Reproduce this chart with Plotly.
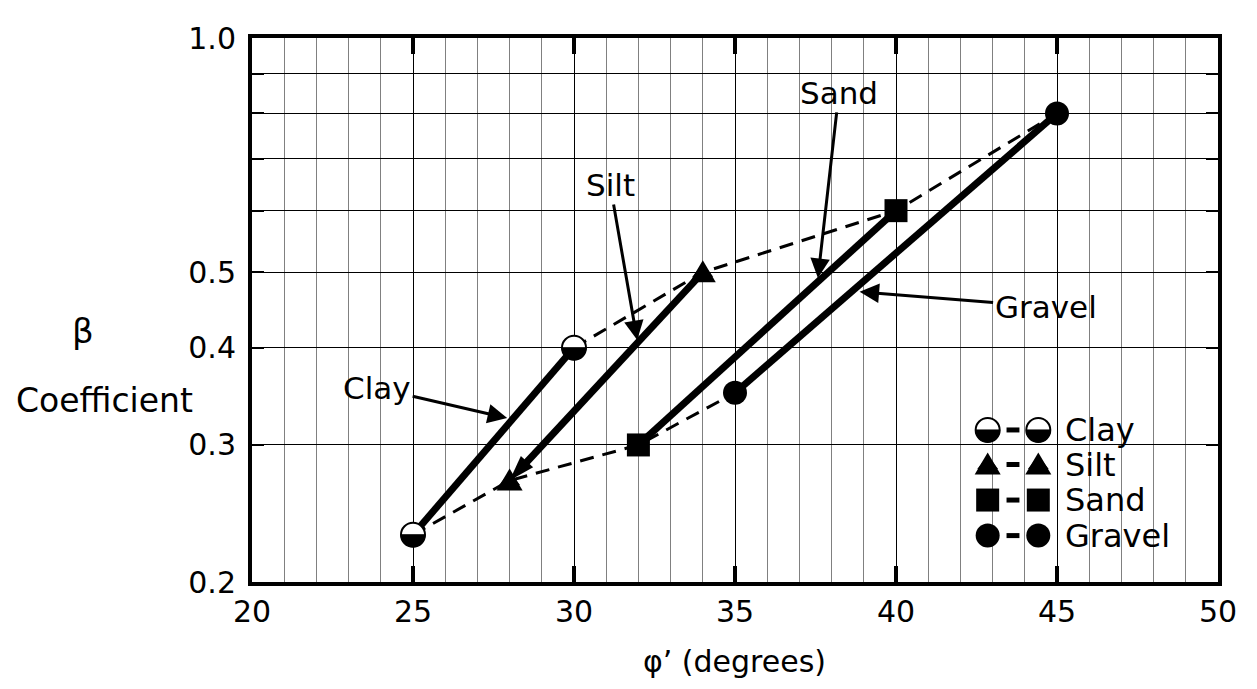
import math
import plotly.graph_objects as go

# ---------------- data ----------------
soils = ["Clay", "Silt", "Sand", "Gravel"]
phi_low = [25, 28, 32, 35]          # degrees
beta_low = [0.23, 0.27, 0.30, 0.35]
phi_high = [30, 34, 40, 45]
beta_high = [0.40, 0.50, 0.60, 0.80]

x_tickvals = [20, 25, 30, 35, 40, 45, 50]
y_tickvals = [0.2, 0.3, 0.4, 0.5, 0.6, 0.7, 0.8, 0.9, 1.0]
y_ticktext = ["0.2", "0.3", "0.4", "0.5", "", "", "", "", "1.0"]

# ---------------- styles ----------------
FONT = "DejaVu Sans, Liberation Sans, Arial, sans-serif"
sym = {"Sand": "square", "Gravel": "circle"}
msize = {"Sand": 23, "Gravel": 24}
OFF = 8                      # page body margin
W, H = 1257 - 2 * OFF, 689 - 2 * OFF
ML, MT = 252 - OFF, 31 - OFF
PR, PB = 1225 - OFF, 582 - OFF
MR, MB = W - PR, H - PB
PW, PH = PR - ML, PB - MT


def px(xp):
    return (xp - OFF - ML) / PW


def py(yp):
    return (PB - (yp - OFF)) / PH


def half_circle_path(r, n=24):
    pts = []
    for i in range(n + 1):
        t = math.pi + math.pi * i / n
        pts.append((r * math.cos(t), r * math.sin(t)))
    return "M " + " L ".join(f"{a:.2f},{b:.2f}" for a, b in pts) + " Z"


TRI_PATH = "M 0,12 L -13,-10 L 13,-10 Z"


def marker_shapes(s, xv, yv, xref, yref):
    out = []
    if s == "Clay":
        out.append(dict(type="path", xref=xref, yref=yref,
                        xsizemode="pixel", ysizemode="pixel",
                        xanchor=xv, yanchor=yv, path=half_circle_path(12),
                        fillcolor="black", line=dict(color="black", width=1),
                        layer="above"))
    elif s == "Silt":
        out.append(dict(type="path", xref=xref, yref=yref,
                        xsizemode="pixel", ysizemode="pixel",
                        xanchor=xv, yanchor=yv, path=TRI_PATH,
                        fillcolor="black", line=dict(color="black", width=0),
                        layer="above"))
    return out


fig = go.Figure()

# dashed envelopes
for xs, ys in [(phi_low, beta_low), (phi_high, beta_high)]:
    fig.add_trace(go.Scatter(x=xs, y=ys, mode="lines",
                             line=dict(color="black", width=3, dash="14px,9px"),
                             showlegend=False, hoverinfo="skip"))

# solid lines (silt drawn as an arrow toward its lower point)
for i, s in enumerate(soils):
    if s == "Silt":
        fig.add_trace(go.Scatter(
            x=[phi_high[i], phi_low[i]], y=[beta_high[i], beta_low[i]],
            mode="lines+markers",
            line=dict(color="black", width=7),
            marker=dict(symbol="arrow", size=27, color="black", angleref="previous"),
            showlegend=False, hoverinfo="skip"))
    else:
        fig.add_trace(go.Scatter(
            x=[phi_low[i], phi_high[i]], y=[beta_low[i], beta_high[i]],
            mode="lines", line=dict(color="black", width=7),
            showlegend=False, hoverinfo="skip"))

# point markers
shapes = []
for i, s in enumerate(soils):
    xs = [phi_low[i], phi_high[i]]
    ys = [beta_low[i], beta_high[i]]
    if s == "Clay":
        fig.add_trace(go.Scatter(x=xs, y=ys, mode="markers",
                                 marker=dict(symbol="circle", size=24, color="white",
                                             line=dict(color="black", width=2)),
                                 showlegend=False, hoverinfo="skip"))
    elif s == "Silt":
        fig.add_trace(go.Scatter(x=xs, y=ys, mode="markers",
                                 marker=dict(symbol="triangle-up", size=18, color="black"),
                                 showlegend=False, hoverinfo="skip"))
    else:
        fig.add_trace(go.Scatter(x=xs, y=ys, mode="markers",
                                 marker=dict(symbol=sym[s], size=msize[s], color="black",
                                             line=dict(width=0)),
                                 showlegend=False, hoverinfo="skip"))
    for xv, yv in zip(xs, ys):
        shapes += marker_shapes(s, xv, yv, "x", "y")

# ---------------- custom legend ----------------
leg_x1, leg_x2 = px(993), px(1044)
leg_rows = [py(428), py(463), py(499), py(535)]
annotations = []
for s, ry in zip(soils, leg_rows):
    if s == "Clay":
        mk = dict(symbol="circle", size=24, color="white", line=dict(color="black", width=2))
    elif s == "Silt":
        mk = dict(symbol="triangle-up", size=18, color="black")
    else:
        mk = dict(symbol=sym[s], size=msize[s], color="black")
    fig.add_trace(go.Scatter(x=[leg_x1, leg_x2], y=[ry, ry], mode="markers",
                             xaxis="x2", yaxis="y2", marker=mk,
                             showlegend=False, hoverinfo="skip", cliponaxis=False))
    for xv in (leg_x1, leg_x2):
        shapes += marker_shapes(s, xv, ry, "x2", "y2")
    shapes.append(dict(type="line", xref="paper", yref="paper",
                       x0=px(1012), x1=px(1025), y0=ry, y1=ry,
                       line=dict(color="black", width=5), layer="above"))
    annotations.append(dict(text=s, xref="paper", yref="paper", x=px(1069), y=ry,
                            xanchor="left", yanchor="middle", showarrow=False,
                            font=dict(family=FONT, size=32, color="black")))

# ---------------- callouts ----------------
callouts = [
    ("Sand", 822, 274, 21, -185),
    ("Silt", 640, 337, -27, -155),
    ("Clay", 509, 416, -130, -30),
    ("Gravel", 864, 288, 186, 15),
]
for txt, tx, ty, ax, ay in callouts:
    annotations.append(dict(text=txt, xref="paper", yref="paper", x=px(tx), y=py(ty),
                            ax=ax, ay=ay, showarrow=True, arrowhead=2, arrowsize=1.3,
                            arrowwidth=3, arrowcolor="black",
                            font=dict(family=FONT, size=31, color="black")))

# axis titles
annotations.append(dict(text="φ’ (degrees)", xref="paper", yref="paper",
                        x=px(738), y=py(663), showarrow=False,
                        xanchor="center", yanchor="middle",
                        font=dict(family=FONT, size=30, color="black")))
annotations.append(dict(text="β", xref="paper", yref="paper",
                        x=px(82), y=py(328), showarrow=False,
                        xanchor="center", yanchor="middle",
                        font=dict(family=FONT, size=34, color="black")))
annotations.append(dict(text="Coefficient", xref="paper", yref="paper",
                        x=px(103), y=py(398), showarrow=False,
                        xanchor="center", yanchor="middle",
                        font=dict(family=FONT, size=33, color="black")))

fig.update_layout(
    width=W, height=H,
    margin=dict(l=ML, r=MR, t=MT, b=MB, pad=0),
    paper_bgcolor="white", plot_bgcolor="white",
    showlegend=False,
    font=dict(family=FONT, size=30, color="black"),
    xaxis=dict(range=[20, 50], tickvals=x_tickvals, ticks="inside", ticklen=16,
               tickwidth=3.5, tickcolor="black", showline=True, linewidth=4,
               linecolor="black", mirror="ticks", showgrid=True, gridcolor="black",
               gridwidth=1, zeroline=False, ticklabelstandoff=0,
               tickfont=dict(family=FONT, size=30, color="black"),
               minor=dict(dtick=1, tick0=20, showgrid=True, gridcolor="#808080",
                          gridwidth=1, ticks="")),
    yaxis=dict(type="log", range=[math.log10(0.2), 0], tickvals=y_tickvals,
               ticktext=y_ticktext, ticks="inside", ticklen=12, tickwidth=2,
               tickcolor="black", showline=True, linewidth=4, linecolor="black",
               mirror="ticks", showgrid=True, gridcolor="black", gridwidth=1,
               zeroline=False, ticklabelstandoff=6,
               tickfont=dict(family=FONT, size=30, color="black")),
    xaxis2=dict(overlaying="x", range=[0, 1], visible=False, fixedrange=True),
    yaxis2=dict(overlaying="y", range=[0, 1], visible=False, fixedrange=True),
    shapes=shapes,
    annotations=annotations,
)

fig.write_html("out.html")
